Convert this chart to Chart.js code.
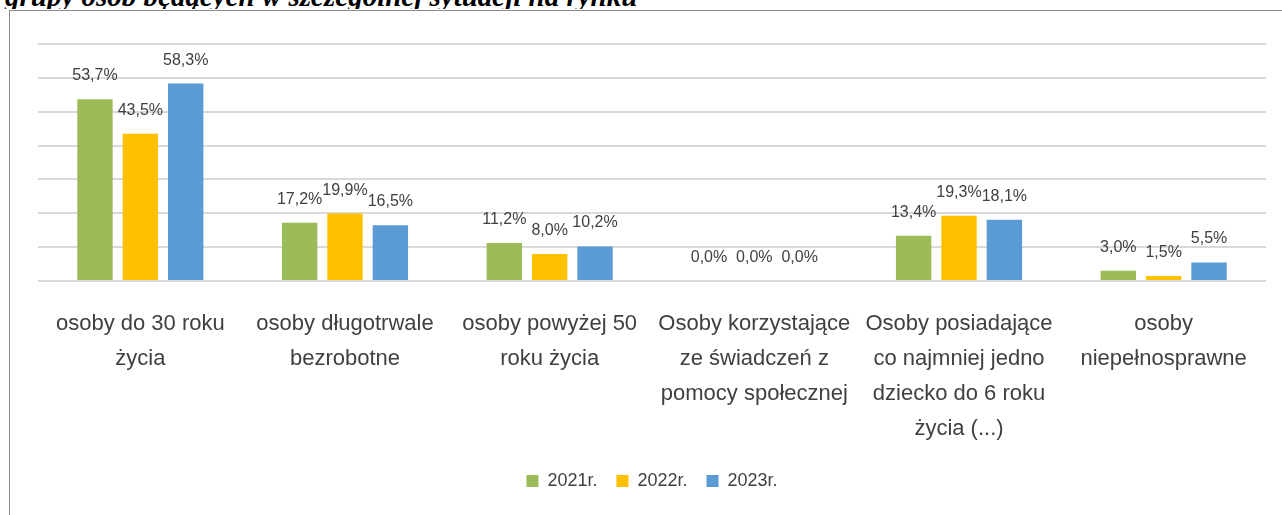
<!DOCTYPE html>
<html>
<head>
<meta charset="utf-8">
<script src="https://cdn.jsdelivr.net/npm/chart.js@4.4.0/dist/chart.umd.min.js"></script>
<style>
    body { margin: 0; background: #fff; overflow: hidden; }
    .wrap { position: relative; width: 1282px; height: 515px; }
    .tytul-okno { position: absolute; left: 0; top: 0; width: 1282px; height: 9px; overflow: hidden; }
    .title {
        position: absolute; left: 5px; top: -18px; white-space: nowrap;
        font-family: "Liberation Serif", "Times New Roman", serif;
        font-weight: bold; font-style: italic; font-size: 29px; line-height: 29px; color: #000;
    }
    .ramka {
        position: absolute; left: 9px; top: 10px; width: 1300px; height: 600px;
        border-left: 1px solid #8c8c8c; border-top: 1px solid #8c8c8c; pointer-events: none;
    }
    canvas { position: absolute; left: 0; top: 0; }
</style>
</head>
<body>
<div class="wrap">
    <div class="tytul-okno"><div class="title">grupy osób będących w szczególnej sytuacji na rynku</div></div>
    <div class="ramka"></div>
    <canvas id="wykres" width="1282" height="515"></canvas>
</div>
<script>
const kategorie = [
    ["osoby do 30 roku", "życia"],
    ["osoby długotrwale", "bezrobotne"],
    ["osoby powyżej 50", "roku życia"],
    ["Osoby korzystające", "ze świadczeń z", "pomocy społecznej"],
    ["Osoby posiadające", "co najmniej jedno", "dziecko do 6 roku", "życia (...)"],
    ["osoby", "niepełnosprawne"]
];
const lata = ["2021r.", "2022r.", "2023r."];
const dane2021 = [53.7, 17.2, 11.2, 0.0, 13.4, 3.0];
const dane2022 = [43.5, 19.9, 8.0, 0.0, 19.3, 1.5];
const dane2023 = [58.3, 16.5, 10.2, 0.0, 18.1, 5.5];
const kolory = ["#9BBB59", "#FFC000", "#5B9BD5"];

// etykiety wartosci nad slupkami
const etykiety = {
    id: "etykiety",
    afterDatasetsDraw(chart) {
        const c = chart.ctx;
        c.save();
        c.font = "16px 'Liberation Sans', Arial, sans-serif";
        c.fillStyle = "#404040";
        c.textAlign = "center";
        c.textBaseline = "alphabetic";
        chart.data.datasets.forEach((ds, i) => {
            chart.getDatasetMeta(i).data.forEach((bar, j) => {
                const txt = ds.data[j].toFixed(1).replace(".", ",") + "%";
                c.fillText(txt, bar.x, bar.y - 19);
            });
        });
        c.restore();
    }
};

const ctx = document.getElementById("wykres");

const myChart = new Chart(ctx, {
    type: "bar",
    data: {
        labels: kategorie,
        datasets: [
            { label: lata[0], data: dane2021, backgroundColor: kolory[0] },
            { label: lata[1], data: dane2022, backgroundColor: kolory[1] },
            { label: lata[2], data: dane2023, backgroundColor: kolory[2] },
        ],
    },
    options: {
        responsive: false,
        animation: false,
        datasets: {
            bar: { categoryPercentage: 0.665, barPercentage: 0.78 }
        },
        layout: { padding: { left: 38, right: 16, top: 44, bottom: 15 } },
        plugins: {
            tooltip: { enabled: false },
            legend: {
                position: "bottom",
                labels: {
                    boxWidth: 12,
                    boxHeight: 12,
                    padding: 19,
                    color: "#404040",
                    font: { family: "'Liberation Sans', Arial, sans-serif", size: 18 },
                },
            },
        },
        scales: {
            x: {
                grid: { display: false },
                border: { display: false },
                ticks: {
                    color: "#404040",
                    padding: 17,
                    maxRotation: 0,
                    autoSkip: false,
                    font: { family: "'Liberation Sans', Arial, sans-serif", size: 22, lineHeight: "35px" },
                },
                afterFit: function (scale) { scale.height = 172; },
            },
            y: {
                min: 0,
                max: 70,
                ticks: { display: false, stepSize: 10 },
                border: { display: false },
                grid: { color: "#D9D9D9", lineWidth: 2, drawTicks: false },
                afterFit: function (scale) { scale.width = 0; },
            },
        },
    },
    plugins: [etykiety],
});
</script>
</body>
</html>
